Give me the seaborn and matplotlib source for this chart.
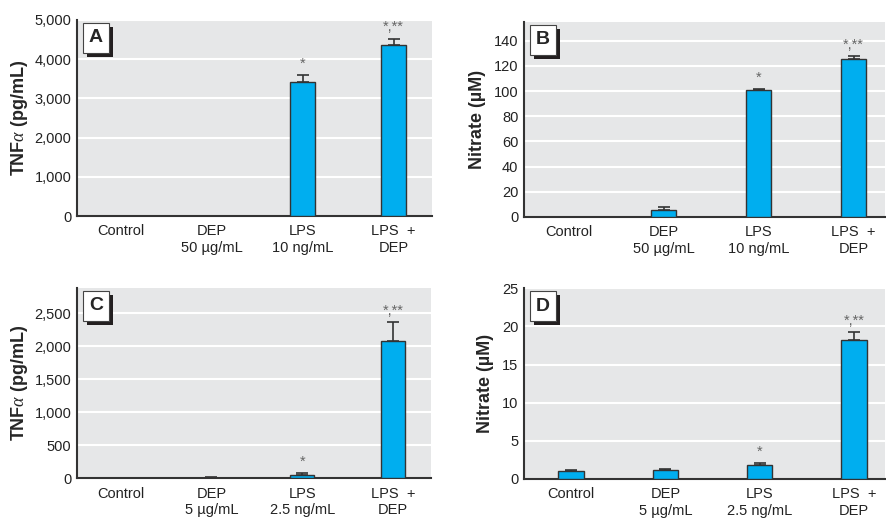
import numpy as np
import pandas as pd
import seaborn as sns
import matplotlib.pyplot as plt
from matplotlib.patches import Rectangle
from matplotlib import transforms

# -----------------------------
# Data
# -----------------------------
labels_top = ["Control", "DEP\n50 µg/mL", "LPS\n10 ng/mL", "LPS  +\nDEP"]
labels_bottom = ["Control", "DEP\n5 µg/mL", "LPS\n2.5 ng/mL", "LPS  +\nDEP"]

tnf_a = [0, 0, 3410, 4355]
tnf_a_err = [0, 0, 180, 170]
nitrate_b = [0, 5.3, 100.5, 125.5]
nitrate_b_err = [0, 2.7, 1.4, 2.0]
tnf_c = [0, 10, 50, 2085]
tnf_c_err = [0, 5, 25, 275]
nitrate_d = [1.0, 1.18, 1.8, 18.25]
nitrate_d_err = [0.14, 0.09, 0.26, 1.0]

sig_marks = ["", "", "*", "*,**"]

# -----------------------------
# Style
# -----------------------------
sns.set_style("white")
plt.rcParams["font.family"] = ["Liberation Sans", "DejaVu Sans"]
plt.rcParams["mathtext.fontset"] = "custom"
plt.rcParams["mathtext.it"] = "Liberation Serif:italic"
BAR_COLOR = "#00AEEF"
BG = "#E6E7E8"
DARK = "#333333"

fig = plt.figure(figsize=(8.87, 5.19), dpi=100)

panels = [
    # letter, rect, labels, values, errors, ylim, yticks, ylabel, xlim, labelpad
    ("A", [0.0868, 0.5838, 0.4002, 0.3777], labels_top, tnf_a, tnf_a_err,
     5000, [0, 1000, 2000, 3000, 4000, 5000], "TNF$\\alpha$ (pg/mL)", (-0.48, 3.42), 3),
    ("B", [0.5908, 0.5819, 0.4069, 0.3761], labels_top, nitrate_b, nitrate_b_err,
     155, [0, 20, 40, 60, 80, 100, 120, 140], "Nitrate (µM)", (-0.47, 3.33), 6),
    ("C", [0.0868, 0.0784, 0.3992, 0.3667], labels_bottom, tnf_c, tnf_c_err,
     2880, [0, 500, 1000, 1500, 2000, 2500], "TNF$\\alpha$ (pg/mL)", (-0.48, 3.42), 3),
    ("D", [0.5908, 0.0771, 0.4069, 0.3674], labels_bottom, nitrate_d, nitrate_d_err,
     25, [0, 5, 10, 15, 20, 25], "Nitrate (µM)", (-0.5, 3.33), 6),
]

for letter, rect, cats, vals, errs, ytop, yticks, ylabel, xlim, lpad in panels:
    ax = fig.add_axes(rect)
    df = pd.DataFrame({"group": cats, "value": vals})
    sns.barplot(data=df, x="group", y="value", ax=ax, color=BAR_COLOR,
                saturation=1, width=0.27, edgecolor=DARK, linewidth=1.0,
                errorbar=None, zorder=3)
    ax.errorbar(range(len(vals)), vals, yerr=[np.zeros(len(errs)), errs],
                fmt="none", ecolor=DARK, elinewidth=1.2, capsize=4,
                capthick=1.2, zorder=2)

    ax.set_facecolor(BG)
    ax.set_xlim(*xlim)
    ax.set_ylim(0, ytop)
    ax.set_yticks(yticks)
    if ytop > 1000:
        ax.set_yticklabels([f"{t:,}" for t in yticks])
    ax.grid(axis="y", color="white", linewidth=1.5, zorder=0)
    ax.set_axisbelow(True)
    ax.tick_params(axis="both", length=0, labelsize=10.5, colors="#222222")
    ax.tick_params(axis="x", pad=6)
    ax.tick_params(axis="y", pad=4)
    for lab in ax.get_xticklabels():
        lab.set_linespacing(1.25)
    for s in ["top", "right"]:
        ax.spines[s].set_visible(False)
    for s in ["left", "bottom"]:
        ax.spines[s].set_color(DARK)
        ax.spines[s].set_linewidth(1.5)
    ax.set_xlabel("")
    ax.set_ylabel(ylabel, fontsize=13, fontweight="bold", labelpad=lpad)

    # significance marks
    for i, m in enumerate(sig_marks):
        if m:
            ax.annotate(m, (i, vals[i] + errs[i]), xytext=(0, 3),
                        textcoords="offset points", ha="center", va="bottom",
                        fontsize=10.5, color="#666666")

    # panel letter box with shadow
    bbox = ax.get_window_extent()
    w = 26 / bbox.width
    h = 30 / bbox.height
    x0 = 6 / bbox.width
    y0 = 1 - 3 / bbox.height - h
    shadow = transforms.offset_copy(ax.transAxes, fig=fig, x=4, y=-4, units="dots")
    ax.add_patch(Rectangle((x0, y0), w, h, transform=shadow, facecolor="#231F20",
                           edgecolor="none", zorder=5, clip_on=False))
    ax.add_patch(Rectangle((x0, y0), w, h, transform=ax.transAxes, facecolor="white",
                           edgecolor="#444444", linewidth=0.8, zorder=6, clip_on=False))
    ax.text(x0 + w / 2, y0 + h / 2, letter, transform=ax.transAxes, ha="center",
            va="center", fontsize=14, fontweight="bold", zorder=7)

fig.savefig("out.png", dpi=100)
